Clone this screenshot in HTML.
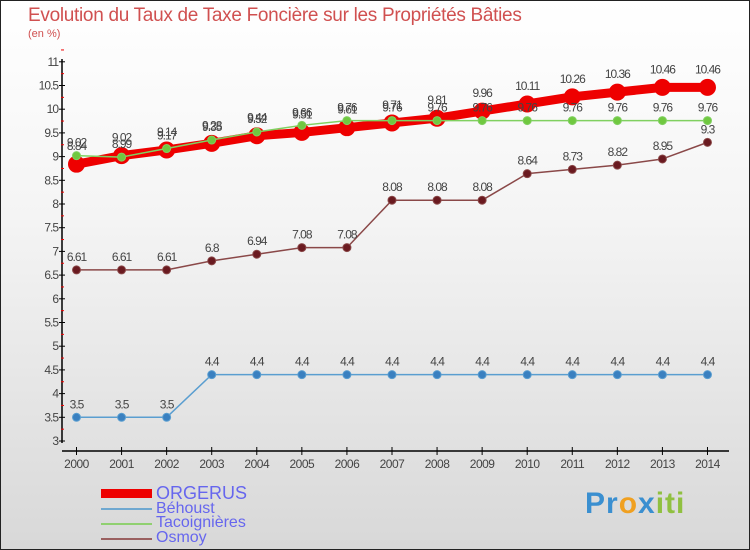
<!DOCTYPE html>
<html><head><meta charset="utf-8"><style>
body{margin:0}
#wrap{position:relative;width:748px;height:548px;border:1px solid #222;background:linear-gradient(#fff 0%,#f4f4f4 40%,#d8d8d8 100%);font-family:"Liberation Sans",sans-serif;overflow:hidden}
#title{position:absolute;left:27px;top:4px;font-size:19px;color:#d05050;letter-spacing:-0.3px}
#unit{position:absolute;left:27px;top:27px;font-size:11px;color:#d05050}
.leg{position:absolute;left:155px;font-size:16px;color:#6666ee;line-height:16px}
.sw{position:absolute;left:100px;width:51px}
#logo{position:absolute;left:584px;top:486px;font-size:30px;font-weight:bold;letter-spacing:1px}
</style></head><body>
<div id="wrap">
<div id="title">Evolution du Taux de Taxe Foncière sur les Propriétés Bâties</div>
<div id="unit">(en %)</div>
<svg id="chart" width="748" height="548" style="position:absolute;left:0;top:0"></svg>
<div class="sw" style="top:488px;height:9px;background:#e00"></div>
<div class="leg" style="top:484px;font-size:18px">ORGERUS</div>
<div class="sw" style="top:507px;height:2px;background:#6fa8d0"></div>
<div class="leg" style="top:500px">Béhoust</div>
<div class="sw" style="top:522px;height:2px;background:#90d070"></div>
<div class="leg" style="top:514px">Tacoignières</div>
<div class="sw" style="top:537px;height:2px;background:#9a6060"></div>
<div class="leg" style="top:529px">Osmoy</div>
<div id="logo"><span style="color:#3a8fd0">Pr</span><span style="color:#f0a020">o</span><span style="color:#3a8fd0">x</span><span style="color:#90c040">iti</span></div>
</div>
<script>
const years=[2000,2001,2002,2003,2004,2005,2006,2007,2008,2009,2010,2011,2012,2013,2014];
const orgerus=[8.84,9.02,9.14,9.28,9.44,9.51,9.61,9.71,9.81,9.96,10.11,10.26,10.36,10.46,10.46];
const behoust=[3.5,3.5,3.5,4.4,4.4,4.4,4.4,4.4,4.4,4.4,4.4,4.4,4.4,4.4,4.4];
const tacoignieres=[9.02,8.99,9.17,9.35,9.52,9.66,9.76,9.76,9.76,9.76,9.76,9.76,9.76,9.76,9.76];
const osmoy=[6.61,6.61,6.61,6.8,6.94,7.08,7.08,8.08,8.08,8.08,8.64,8.73,8.82,8.95,9.3];
const yTicks=[3,3.5,4,4.5,5,5.5,6,6.5,7,7.5,8,8.5,9,9.5,10,10.5,11];
const svg=document.getElementById('chart');
const NS='http://www.w3.org/2000/svg';
const X=i=>75.5+i*45.07;
const Y=v=>440-(v-3)*47.4;
function mk(t,a){const e=document.createElementNS(NS,t);for(const k in a)e.setAttribute(k,a[k]);svg.appendChild(e);return e;}
// axes
let e=mk('line',{x1:61,y1:58,x2:61,y2:442,stroke:'#000','stroke-width':1.5});


e=mk('line',{x1:61,y1:450,x2:728,y2:450,stroke:'#000','stroke-width':1.5});


yTicks.forEach(v=>{
 mk('line',{x1:58,y1:Y(v),x2:64,y2:Y(v),stroke:'#000'});
 mk('line',{x1:60,y1:Y(v+0.25),x2:63,y2:Y(v+0.25),stroke:'#e00'});
 const t=mk('text',{x:57,y:Y(v)+4,'text-anchor':'end','font-size':12,fill:'#444','font-family':'Liberation Sans','letter-spacing':'-1'});
 t.textContent=String(v);
 
 
});
years.forEach((y,i)=>{
 mk('line',{x1:X(i),y1:446,x2:X(i),y2:454,stroke:'#000'});
 const t=mk('text',{x:X(i),y:467,'text-anchor':'middle','font-size':12,fill:'#444','font-family':'Liberation Sans','letter-spacing':'-0.5'});
 t.textContent=y;
 
 
});
function series(vals,name,color,w,r,dot,lblDy){
 const p=mk('polyline',{points:vals.map((v,i)=>X(i)+','+Y(v)).join(' '),fill:'none',stroke:color,'stroke-width':w,'stroke-linejoin':'round'});
 
 
 vals.forEach((v,i)=>{
  const c=mk('circle',{cx:X(i),cy:Y(v),r:r,fill:dot,stroke:color,'stroke-width':1});
  
  
  const t=mk('text',{x:X(i),y:Y(v)+lblDy,'text-anchor':'middle','font-size':12,fill:'#444','font-family':'Liberation Sans','letter-spacing':'-1'});
  t.textContent=String(v);
  
  
 });
}
series(behoust,'behoust','#5a9ed0',1.5,4,'#3a80c0',-9);
series(osmoy,'osmoy','#8a4848',1.5,4,'#6a1a20',-9);
series(orgerus,'orgerus','#e00',9,8,'#e00',-14);
series(tacoignieres,'tacoignieres','#80d060',1.5,4,'#70c840',-9);
</script>
</body></html>
